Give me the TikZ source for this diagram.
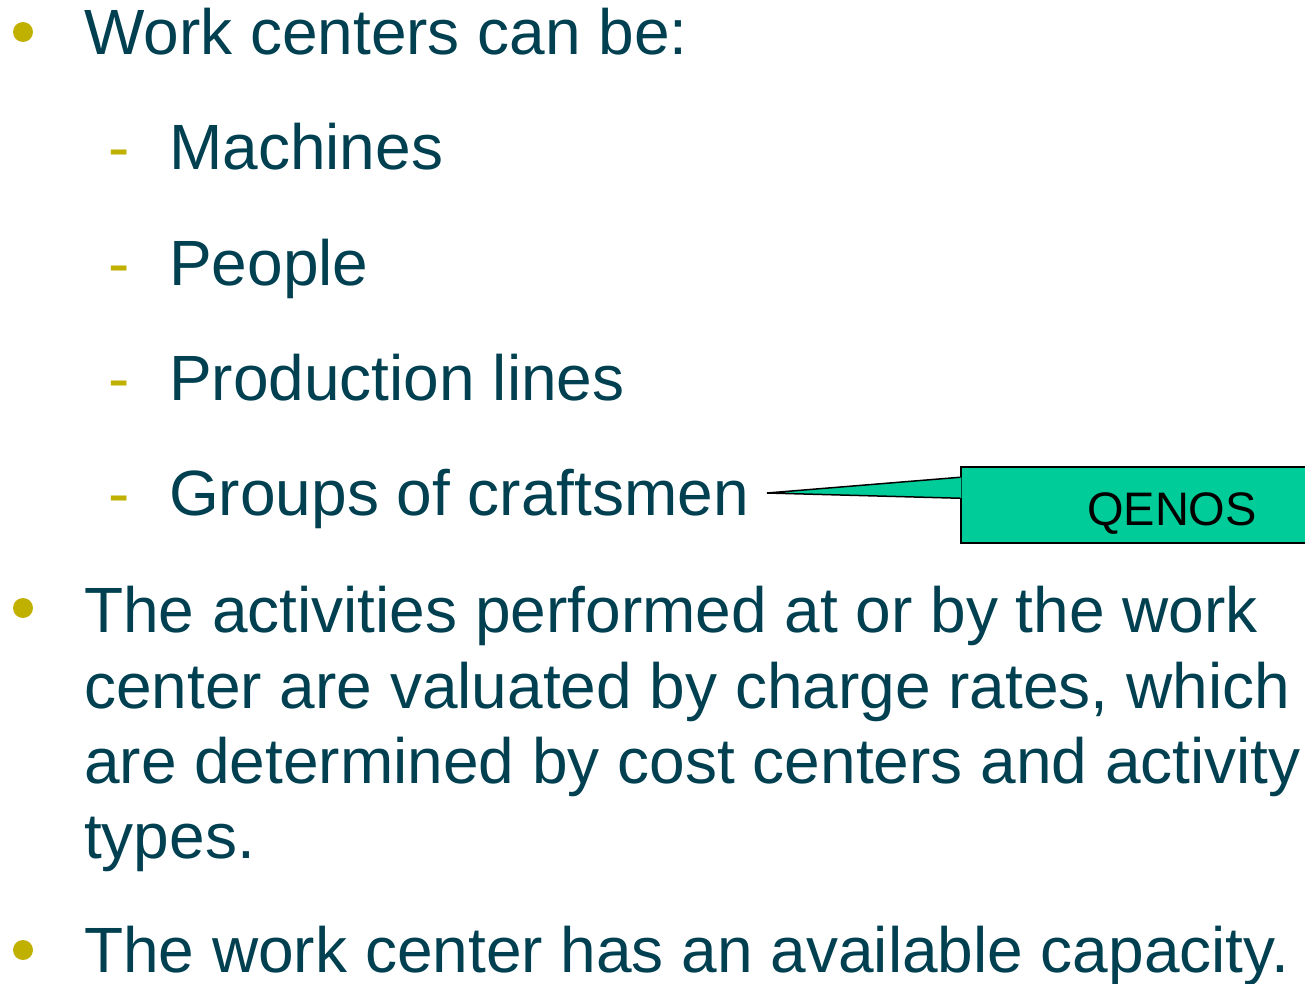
\documentclass[tikz,border=0pt]{standalone}
\usepackage{fontspec}
\setmainfont{Liberation Sans}
\definecolor{textteal}{RGB}{0,64,80}
\definecolor{bulletolive}{RGB}{192,176,0}
\definecolor{calloutgreen}{RGB}{0,204,153}

\begin{document}
\begin{tikzpicture}[x=1pt,y=-1pt]
  \tikzstyle{every node}+=[inner sep=0pt]
  \tikzstyle{line}=[anchor=base west, text=textteal, font=\fontsize{64}{75}\selectfont]
  \tikzstyle{dot}=[circle, fill=bulletolive, minimum size=20pt]
  \tikzstyle{subdash}=[anchor=base west, text=bulletolive, font=\fontsize{64}{75}\selectfont]
  \tikzstyle{box}=[draw=black, line width=1.5pt, fill=calloutgreen, font=\fontsize{47}{56}\selectfont]
  \useasboundingbox (0,0) rectangle (1305,984);
  \clip (0,0) rectangle (1305,984);
  % first bullet and its sub items
  \node [dot] (b1) at (23,32) {};
  \node [line] (wc) at (84,55) {Work centers can be:};
  \node [subdash] (d1) at (108,170) {-};
  \node [line] (mach) at (169,170) {Machines};
  \node [subdash] (d2) at (108,285) {-};
  \node [line] (people) at (169,285) {People};
  \node [subdash] (d3) at (108,400) {-};
  \node [line] (prod) at (169,400) {Production lines};
  \node [subdash] (d4) at (108,515) {-};
  \node [line] (groups) at (169,515) {Groups of craftsmen};
  % callout
  \node [box, minimum width=422pt, minimum height=76pt, text height=40pt, text depth=0pt] (qenos) at (1172,505) {QENOS};
  \coordinate (tip) at (767,493);
  \fill [calloutgreen] (tip) -- ([xshift=1.2pt,yshift=-11pt]qenos.north west) -- ([xshift=1.2pt,yshift=-32pt]qenos.north west) -- cycle;
  \draw [line width=1.5pt] ([yshift=-11pt]qenos.north west) -- (tip) -- ([yshift=-32pt]qenos.north west);
  % second bullet
  \node [dot] (b2) at (23,608) {};
  \node [line] (act1) at (84,632) {The activities performed at or by the work};
  \node [line] (act2) at (84,708) {center are valuated by charge rates, which};
  \node [line] (act3) at (84,783) {are determined by cost centers and activity};
  \node [line] (act4) at (84,858) {types.};
  % third bullet
  \node [dot] (b3) at (23,950) {};
  \node [line] (cap) at (84,972) {The work center has an available capacity.};
\end{tikzpicture}
\end{document}
